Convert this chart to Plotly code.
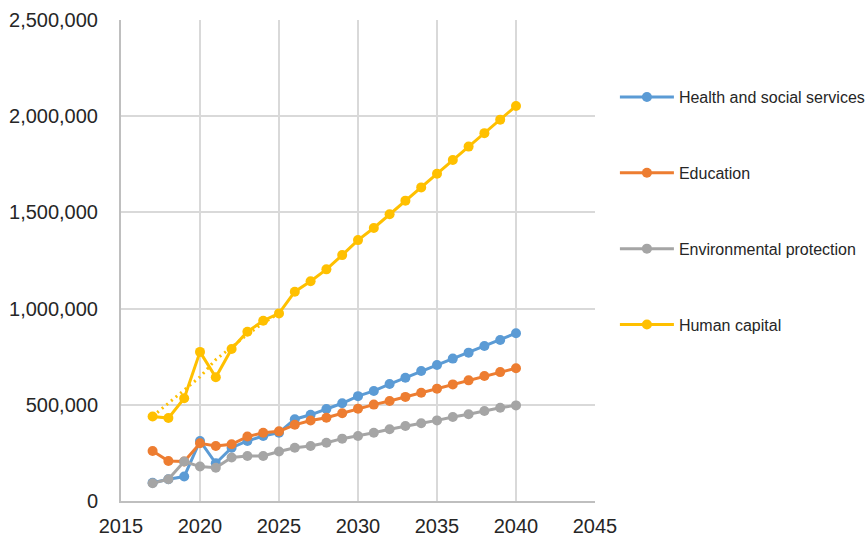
import plotly.graph_objects as go

years = list(range(2017, 2041))

health = [95000, 113000, 127000, 312000, 196000, 277000, 312000, 338000, 355000, 425000,
          448000, 478000, 508000, 545000, 572000, 608000, 641000, 676000, 707000, 740000,
          771000, 806000, 837000, 872000]
education = [260000, 208000, 205000, 300000, 286000, 295000, 335000, 355000, 362000, 396000,
             418000, 433000, 456000, 480000, 501000, 520000, 541000, 563000, 584000, 606000,
             627000, 650000, 670000, 690000]
environment = [92000, 113000, 205000, 179000, 173000, 226000, 234000, 234000, 257000, 277000,
               286000, 303000, 324000, 338000, 355000, 373000, 390000, 404000, 419000, 437000,
               451000, 468000, 485000, 497000]
human = [439000, 431000, 534000, 775000, 643000, 790000, 880000, 937000, 975000, 1088000,
         1142000, 1204000, 1278000, 1356000, 1419000, 1490000, 1561000, 1630000, 1701000, 1772000,
         1842000, 1912000, 1982000, 2053000]

trend_years = list(range(2017, 2026))
human_trend = [440000, 510000, 575000, 645000, 735000, 800000, 865000, 925000, 975000]

series = [
    ("Health and social services", health, "#5B9BD5"),
    ("Education", education, "#ED7D31"),
    ("Environmental protection", environment, "#A5A5A5"),
    ("Human capital", human, "#FFC000"),
]

fig = go.Figure()
for i, (name, vals, col) in enumerate(series):
    fig.add_trace(go.Scatter(
        x=years, y=vals, name=name, mode="lines+markers",
        line=dict(color=col, width=3),
        marker=dict(color=col, size=10),
        legendgroup=f"g{i}",
    ))

fig.add_trace(go.Scatter(
    x=trend_years, y=human_trend, mode="lines", showlegend=False,
    line=dict(color="#FFC000", width=3, dash="2px,4px"),
    hoverinfo="skip",
))

font_family = "Liberation Sans, Arial, sans-serif"

fig.update_layout(
    width=866, height=541,
    margin=dict(l=121, r=271, t=20, b=40, autoexpand=False),
    paper_bgcolor="white", plot_bgcolor="white",
    font=dict(family=font_family, color="#262626"),
    showlegend=True,
    legend=dict(
        x=1.042, xanchor="left", y=0.875, yanchor="top",
        xref="paper",
        font=dict(size=16, family=font_family, color="#262626"),
        tracegroupgap=52, itemwidth=54,
        bgcolor="rgba(0,0,0,0)",
    ),
    xaxis=dict(
        range=[2015, 2045], dtick=5, tick0=2015,
        showgrid=True, gridcolor="#D9D9D9", gridwidth=2,
        showline=True, linecolor="#BFBFBF", linewidth=2,
        zeroline=False, ticks="", automargin=False,
        tickfont=dict(size=20, family=font_family, color="#262626"),
        ticklabelstandoff=6,
    ),
    yaxis=dict(
        range=[0, 2500000], dtick=500000,
        showgrid=True, gridcolor="#D9D9D9", gridwidth=2,
        showline=True, linecolor="#BFBFBF", linewidth=2,
        zeroline=False, ticks="", automargin=False,
        tickformat=",d",
        tickfont=dict(size=20, family=font_family, color="#262626"),
        ticklabelstandoff=17,
    ),
)

fig.write_html("out.html")
